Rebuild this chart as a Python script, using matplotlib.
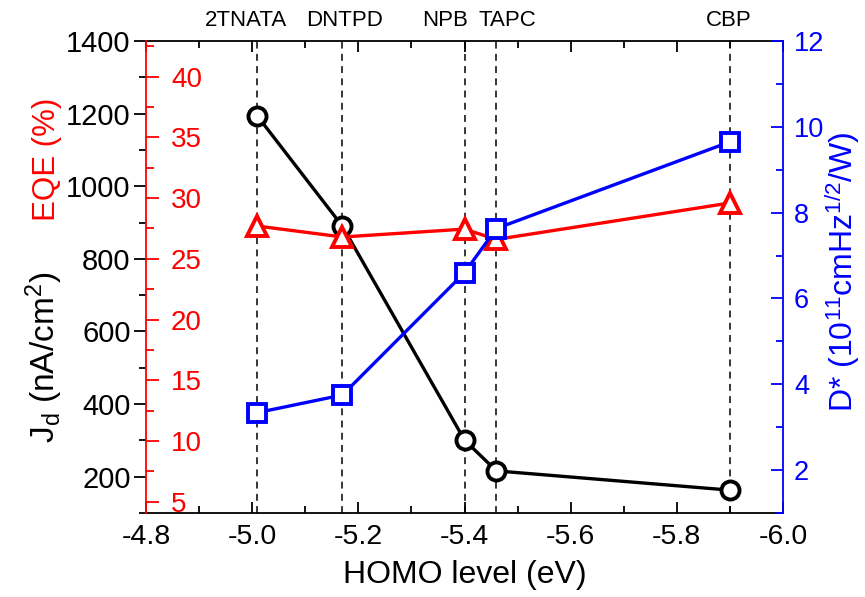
import matplotlib
matplotlib.use("Agg")
import matplotlib.pyplot as plt
from matplotlib.ticker import MultipleLocator

plt.rcParams['font.family'] = ['Liberation Sans', 'DejaVu Sans']
plt.rcParams['mathtext.fontset'] = 'custom'
plt.rcParams['mathtext.rm'] = 'Liberation Sans'
plt.rcParams['mathtext.it'] = 'Liberation Sans:italic'
plt.rcParams['mathtext.bf'] = 'Liberation Sans:bold'

# Data
materials = ["2TNATA", "DNTPD", "NPB", "TAPC", "CBP"]
homo = [-5.01, -5.17, -5.40, -5.46, -5.90]
jd = [1193, 890, 301, 216, 163]           # nA/cm^2
eqe = [27.7, 26.8, 27.45, 26.6, 29.6]     # %
dstar = [3.34, 3.75, 6.6, 7.63, 9.65]     # 1e11 Jones
label_x = [-4.988, -5.175, -5.363, -5.48, -5.898]

fig = plt.figure(figsize=(8.65, 5.97), dpi=100)
ax = fig.add_axes([146/865, 1 - 513/597, (783-146)/865, (513-41)/597])

lw = 2.4
ms = 13
mew = 2.8

# dashed guide lines
for x in homo:
    ax.axvline(x, color='black', ls=(0, (4.5, 3.5)), lw=1.1, zorder=1)

ax.plot(homo, jd, '-o', color='black', lw=lw, ms=ms, mfc='white', mec='black', mew=mew, zorder=3)
ax.set_xlim(-4.8, -6.0)
ax.set_ylim(100, 1400)
ax.xaxis.set_major_locator(MultipleLocator(0.2))
ax.xaxis.set_minor_locator(MultipleLocator(0.1))
ax.yaxis.set_major_locator(MultipleLocator(200))
ax.yaxis.set_minor_locator(MultipleLocator(100))
ax.xaxis.set_major_formatter(matplotlib.ticker.FuncFormatter(lambda v, p: f"{v:.1f}"))
ax.tick_params(axis='x', which='both', direction='in', top=True, bottom=True, labelsize=20.5, width=1.3, pad=8)
ax.tick_params(axis='x', which='major', length=8)
ax.tick_params(axis='x', which='minor', length=5)
ax.tick_params(axis='y', which='both', direction='out', left=True, right=False, labelsize=21, width=1.3, pad=2)
ax.tick_params(axis='y', which='major', length=9)
ax.tick_params(axis='y', which='minor', length=5)
for s in ['top', 'bottom']:
    ax.spines[s].set_linewidth(1.3)
ax.spines['left'].set_visible(False)
ax.spines['right'].set_visible(False)
ax.set_xlabel("HOMO level (eV)", fontsize=23, labelpad=7)

# EQE axis (red), spine on the left, ticks/labels pointing inward
ax2 = ax.twinx()
ax2.spines['right'].set_position(('axes', 0))
ax2.spines['right'].set_color('red')
ax2.spines['right'].set_linewidth(1.3)
ax2.spines['left'].set_visible(False)
ax2.spines['top'].set_visible(False)
ax2.spines['bottom'].set_visible(False)
ax2.plot(homo, eqe, '-^', color='red', lw=lw, ms=ms+1, mfc='white', mec='red', mew=mew, zorder=3)
ax2.set_ylim(4.07, 42.94)
ax2.yaxis.set_major_locator(MultipleLocator(5))
ax2.yaxis.set_minor_locator(MultipleLocator(2.5))
ax2.tick_params(axis='y', which='both', direction='out', colors='red', labelsize=20, width=1.3, pad=9)
ax2.tick_params(axis='y', which='major', length=9)
ax2.tick_params(axis='y', which='minor', length=6)

# D* axis (blue)
ax3 = ax.twinx()
ax3.spines['right'].set_color('blue')
ax3.spines['right'].set_linewidth(1.3)
ax3.spines['left'].set_visible(False)
ax3.spines['top'].set_visible(False)
ax3.spines['bottom'].set_visible(False)
ax3.plot(homo, dstar, '-s', color='blue', lw=lw, ms=ms, mfc='white', mec='blue', mew=mew, zorder=3)
ax3.set_ylim(1, 12)
ax3.yaxis.set_major_locator(MultipleLocator(2))
ax3.yaxis.set_minor_locator(MultipleLocator(1))
ax3.tick_params(axis='y', which='both', direction='in', colors='blue', labelsize=19.5, width=1.3, pad=8)
ax3.tick_params(axis='y', which='major', length=9)
ax3.tick_params(axis='y', which='minor', length=5)

# top labels
for name, x in zip(materials, label_x):
    ax.text(x, 1.022, name, transform=ax.get_xaxis_transform(), ha='center', va='bottom', fontsize=16)

# y labels
fig.text(47/865, 1 - 159/597, "EQE (%)", color='red', rotation=90, ha='center', va='center', fontsize=22.5)
fig.text(44/865, 1 - 357/597, r"J$_\mathregular{d}$ (nA/cm$^\mathregular{2}$)", color='black', rotation=90,
         ha='center', va='center', fontsize=24)
fig.text(843/865, 1 - 272/597, r"D* (10$^\mathregular{11}$cmHz$^\mathregular{1/2}$/W)", color='blue', rotation=90,
         ha='center', va='center', fontsize=23)

fig.savefig("out.png", dpi=100)
